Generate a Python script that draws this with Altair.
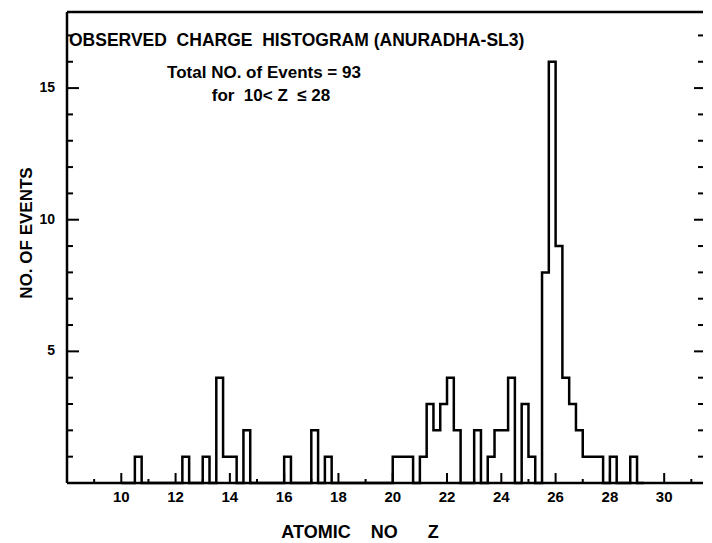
import altair as alt
import pandas as pd

# ---- data (bin left edge in Z, bin width 0.25) ----
bin_left = [10.5, 12.25, 13.0, 13.5, 13.75, 14.0, 14.5, 16.0, 17.0, 17.5,
            20.0, 20.25, 20.5, 21.0, 21.25, 21.5, 21.75, 22.0, 22.25, 23.0,
            23.5, 23.75, 24.0, 24.25, 24.75, 25.0, 25.5, 25.75, 26.0, 26.25,
            26.5, 26.75, 27.0, 27.25, 27.5, 28.0, 28.75]
counts = [1, 1, 1, 4, 1, 1, 2, 1, 2, 1,
          1, 1, 1, 1, 3, 2, 3, 4, 2, 2,
          1, 2, 2, 4, 3, 1, 8, 16, 9, 4,
          3, 2, 1, 1, 1, 1, 1]
bin_width = 0.25
x_tick_labels = [10, 12, 14, 16, 18, 20, 22, 24, 26, 28, 30]
x_minor_ticks = [9, 11, 13, 15, 17, 19, 21, 23, 25, 27, 29, 31]
y_tick_labels = [5, 10, 15]
y_minor_ticks = [1, 2, 3, 4, 6, 7, 8, 9, 11, 12, 13, 14, 16, 17]

NB = "\u00a0"
title_text = f"OBSERVED{NB*2}CHARGE{NB*2}HISTOGRAM{NB}(ANURADHA-SL3)"
note1 = "Total NO. of Events = 93"
note2 = f"for{NB*2}10<{NB}Z{NB*2}≤{NB}28"
x_title = f"ATOMIC{NB*4}NO{NB*6}Z"
y_title = "NO. OF EVENTS"

# ---- step outline table built from the bins ----
lookup = {round(b, 2): c for b, c in zip(bin_left, counts)}
start, stop = 10.0, 29.25
pts = []
z = start
while z <= stop + 1e-9:
    pts.append({"z": z, "n": lookup.get(round(z, 2), 0)})
    z = round(z + bin_width, 2)
step_df = pd.DataFrame(pts)

W, H = 636, 471
FONT = "Liberation Sans"
xs = alt.Scale(domain=[8, 31.43], nice=False, zero=False)
ys = alt.Scale(domain=[0, 17.89], nice=False, zero=False)
one = pd.DataFrame({"d": [0]})
LW = 2.5

hist = alt.Chart(step_df).mark_line(
    interpolate="step-after", color="black", strokeWidth=LW, strokeJoin="miter"
).encode(
    x=alt.X("z:Q", scale=xs, axis=None),
    y=alt.Y("n:Q", scale=ys, axis=None),
)

rule = dict(color="black", strokeWidth=LW)
frame_left = alt.Chart(one).mark_rule(**rule).encode(
    x=alt.value(0), y=alt.value(0), y2=alt.value(H))
frame_top = alt.Chart(one).mark_rule(**rule).encode(
    x=alt.value(0), x2=alt.value(W), y=alt.value(0))
frame_bottom = alt.Chart(one).mark_rule(**rule).encode(
    x=alt.value(0), x2=alt.value(W), y=alt.value(H))

ymaj = pd.DataFrame({"v": y_tick_labels, "t": [str(v) for v in y_tick_labels]})
ymin = pd.DataFrame({"v": y_minor_ticks})
xmaj = pd.DataFrame({"v": x_tick_labels, "t": [str(v) for v in x_tick_labels]})
xmin = pd.DataFrame({"v": x_minor_ticks})

tk = dict(color="black", strokeWidth=2)
lt_maj = alt.Chart(ymaj).mark_rule(**tk).encode(
    y=alt.Y("v:Q", scale=ys, axis=None), x=alt.value(0), x2=alt.value(12))
lt_min = alt.Chart(ymin).mark_rule(**tk).encode(
    y=alt.Y("v:Q", scale=ys, axis=None), x=alt.value(0), x2=alt.value(6))
rt_maj = alt.Chart(ymaj).mark_rule(**tk).encode(
    y=alt.Y("v:Q", scale=ys, axis=None), x=alt.value(W), x2=alt.value(W - 9))
rt_min = alt.Chart(ymin).mark_rule(**tk).encode(
    y=alt.Y("v:Q", scale=ys, axis=None), x=alt.value(W), x2=alt.value(W - 5))
bt_maj = alt.Chart(xmaj).mark_rule(**tk).encode(
    x=alt.X("v:Q", scale=xs, axis=None), y=alt.value(H), y2=alt.value(H - 10))
bt_min = alt.Chart(xmin).mark_rule(**tk).encode(
    x=alt.X("v:Q", scale=xs, axis=None), y=alt.value(H), y2=alt.value(H - 4))

txt = dict(font=FONT, fontWeight="bold", color="black", baseline="middle")
x_labels = alt.Chart(xmaj).mark_text(align="center", fontSize=15, **txt).encode(
    x=alt.X("v:Q", scale=xs, axis=None), y=alt.value(H + 14), text="t:N")
y_labels = alt.Chart(ymaj).mark_text(align="right", fontSize=14, **txt).encode(
    y=alt.Y("v:Q", scale=ys, axis=None), x=alt.value(-12), text="t:N")

t_title = alt.Chart(one).mark_text(align="left", fontSize=17.5, text=title_text, **txt).encode(
    x=alt.value(2), y=alt.value(29))
t_note1 = alt.Chart(one).mark_text(align="center", fontSize=17, text=note1, **txt).encode(
    x=alt.value(197), y=alt.value(61))
t_note2 = alt.Chart(one).mark_text(align="center", fontSize=17, text=note2, **txt).encode(
    x=alt.value(204), y=alt.value(84))
t_x = alt.Chart(one).mark_text(align="center", fontSize=18, text=x_title, **txt).encode(
    x=alt.value(293), y=alt.value(521))
t_y = alt.Chart(one).mark_text(align="center", fontSize=17, angle=270, text=y_title, **txt).encode(
    x=alt.value(-40), y=alt.value(221))

chart = alt.layer(
    hist, frame_left, frame_top, frame_bottom,
    lt_maj, lt_min, rt_maj, rt_min, bt_maj, bt_min,
    x_labels, y_labels,
    t_title, t_note1, t_note2, t_x, t_y,
).properties(
    width=W, height=H,
    padding={"left": 59, "top": 4, "right": 1, "bottom": 60},
    autosize=alt.AutoSizeParams(type="none"),
    background="white",
).configure_view(stroke=None)

chart.save("out.html", embed_options={"renderer": "svg", "actions": False})
